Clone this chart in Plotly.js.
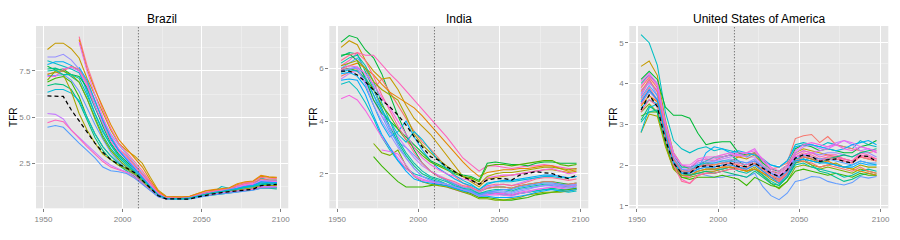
<!DOCTYPE html>
<html>
<head>
<meta charset="utf-8">
<script src="https://cdn.plot.ly/plotly-3.0.1.min.js"></script>
<style>html,body{margin:0;padding:0;background:#fff}#chart{width:900px;height:240px}</style>
</head>
<body>
<div id="chart"></div>
<script>
// ---------- DATA ----------
const years = [1952.5,1957.5,1962.5,1967.5,1972.5,1977.5,1982.5,1987.5,1992.5,1997.5,2002.5,2007.5,2012.5,2017.5,2022.5,2027.5,2032.5,2037.5,2042.5,2047.5,2052.5,2057.5,2062.5,2067.5,2072.5,2077.5,2082.5,2087.5,2092.5,2097.5];
const panelTitles = ["Brazil", "India", "United States of America"];
const projectionStart = 2010;

const brazilMedian = [6.15,6.15,6.12,5.4,4.8,4.2,3.6,3.1,2.7,2.45,2.25,2.0,1.6,1.15,0.75,0.58,0.57,0.57,0.57,0.68,0.78,0.85,0.92,0.96,1.0,1.05,1.1,1.3,1.33,1.36];
const brazilLines = [
 [8.66,9.0,9.0,8.7,8.2,7.1,6.2,5.2,4.3,3.6,3.2,2.9,2.5,1.75,1.05,0.72,0.7,0.7,0.72,0.85,1.0,1.05,1.1,1.15,1.35,1.45,1.5,1.8,1.75,1.72],
 [8.25,8.25,8.4,8.1,7.6,6.8,5.8,4.9,4.1,3.5,3.0,2.5,2.0,1.45,0.95,0.65,0.62,0.63,0.68,0.8,0.92,0.98,1.05,1.12,1.25,1.4,1.45,1.6,1.55,1.55],
 [8.05,7.9,7.75,7.6,7.4,6.5,5.5,4.6,3.8,3.2,2.8,2.3,1.75,1.3,0.85,0.62,0.6,0.6,0.64,0.75,0.88,0.95,1.25,1.15,1.2,1.3,1.35,1.7,1.6,1.6],
 [7.85,8.0,8.0,7.8,7.5,6.3,5.2,4.3,3.5,2.9,2.5,2.1,1.6,1.2,0.8,0.6,0.58,0.58,0.62,0.72,0.82,0.9,0.95,1.0,1.1,1.2,1.25,1.4,1.45,1.45],
 [7.75,7.55,7.6,7.3,7.2,6.6,5.6,4.5,3.6,3.0,2.6,2.2,1.7,1.25,0.8,0.6,0.57,0.58,0.6,0.7,0.78,0.85,0.9,0.95,1.0,1.05,1.12,1.2,1.22,1.2],
 [7.6,7.65,7.5,7.2,6.9,6.0,5.0,4.0,3.3,2.8,2.4,2.0,1.55,1.15,0.78,0.6,0.58,0.6,0.64,0.75,0.85,0.92,1.0,1.05,1.15,1.25,1.3,1.45,1.4,1.4],
 [7.35,7.4,7.5,7.75,7.6,6.9,5.9,4.8,3.9,3.3,2.9,2.4,1.9,1.4,0.9,0.65,0.62,0.62,0.66,0.78,0.9,0.98,1.05,1.1,1.3,1.4,1.45,1.65,1.6,1.6],
 [7.25,7.25,7.3,7.0,6.4,5.5,4.6,3.8,3.1,2.6,2.3,2.0,1.55,1.15,0.78,0.6,0.58,0.58,0.62,0.72,0.82,0.88,0.95,1.0,1.05,1.15,1.2,1.35,1.35,1.4],
 [7.2,7.2,7.6,7.7,7.5,6.7,5.6,4.6,3.7,3.1,2.7,2.2,1.7,1.25,0.82,0.62,0.6,0.6,0.65,0.76,0.88,0.95,1.0,1.05,1.2,1.3,1.35,1.5,1.5,1.5],
 [7.0,7.5,7.5,7.3,6.9,6.0,4.9,3.9,3.2,2.7,2.3,2.0,1.55,1.1,0.75,0.58,0.56,0.57,0.6,0.68,0.76,0.82,0.88,0.92,1.0,1.05,1.1,1.2,1.2,1.2],
 [6.9,7.1,7.2,6.9,6.1,5.0,4.1,3.4,2.9,2.5,2.2,1.9,1.5,1.1,0.75,0.58,0.56,0.56,0.6,0.7,0.8,0.85,0.9,0.95,1.02,1.1,1.15,1.25,1.28,1.3],
 [6.7,6.8,6.75,6.5,5.8,4.8,3.9,3.2,2.7,2.4,2.1,1.8,1.45,1.05,0.72,0.57,0.55,0.56,0.6,0.68,0.75,0.8,0.85,0.9,0.98,1.02,1.08,1.15,1.15,1.12],
 [6.35,6.5,6.5,6.3,5.9,5.0,4.1,3.4,2.9,2.5,2.2,1.9,1.5,1.1,0.75,0.6,0.58,0.58,0.62,0.72,0.82,0.9,0.98,1.1,1.15,1.25,1.3,1.5,1.5,1.45],
 [7.3,7.45,7.3,6.4,5.2,4.3,3.6,3.0,2.7,2.4,2.2,1.9,1.5,1.1,0.75,0.6,0.58,0.59,0.62,0.72,0.8,0.86,0.92,0.98,1.05,1.12,1.18,1.3,1.3,1.3],
 [5.2,5.15,4.9,4.3,3.9,3.5,3.1,2.7,2.4,2.2,2.05,1.85,1.45,1.05,0.72,0.58,0.56,0.57,0.6,0.7,0.78,0.85,0.9,0.95,1.02,1.08,1.12,1.25,1.25,1.25],
 [4.7,4.85,4.75,4.3,3.8,3.4,3.0,2.6,2.3,2.15,2.0,1.75,1.4,1.0,0.7,0.57,0.55,0.56,0.6,0.68,0.76,0.82,0.88,0.92,1.0,1.05,1.1,1.2,1.2,1.22],
 [4.45,4.55,4.45,4.0,3.6,3.2,2.8,2.3,2.1,2.05,1.95,1.7,1.35,1.0,0.7,0.57,0.55,0.55,0.58,0.66,0.74,0.8,0.85,0.9,0.95,1.0,1.05,1.15,1.15,1.18],
 [null,null,null,null,9.35,7.8,6.6,5.4,4.4,3.6,3.1,2.6,2.1,1.5,0.95,0.68,0.66,0.66,0.7,0.82,0.95,1.0,1.08,1.15,1.3,1.45,1.5,1.75,1.7,1.68],
 [null,null,null,null,9.2,7.6,6.5,5.5,4.6,3.8,3.3,2.8,2.3,1.6,1.0,0.7,0.68,0.68,0.72,0.88,1.02,1.08,1.12,1.18,1.4,1.5,1.55,1.85,1.78,1.75],
 [null,null,null,null,9.05,7.5,6.2,5.0,4.0,3.3,2.8,2.3,1.8,1.3,0.85,0.62,0.6,0.6,0.65,0.76,0.86,0.95,1.02,1.08,1.2,1.35,1.4,1.55,1.55,1.52],
 [null,null,null,null,7.7,7.0,5.9,4.8,3.9,3.2,2.7,2.2,1.7,1.25,0.8,0.6,0.58,0.59,0.63,0.74,0.84,0.92,0.98,1.05,1.15,1.25,1.3,1.5,1.45,1.45],
 [7.5,7.55,7.3,7.3,7.1,6.2,5.2,4.2,3.5,2.9,2.5,2.1,1.65,1.2,0.78,0.6,0.58,0.58,0.62,0.72,0.84,0.92,0.98,1.02,1.1,1.2,1.25,1.35,1.38,1.4]
];
const brazilColors = ["#C49A00","#9590FF","#00BFC4","#00B0F6","#00BA38","#00C08B","#F8766D","#619CFF","#F564E3","#7CAE00","#39B600","#00BF7D","#00BCD8","#A3A500","#C77CFF","#FF62BC","#529EFF","#FF6A98","#E58700","#E76BF3","#00A9FF","#00C1AA"];

const indiaMedian = [5.9,5.9,5.75,5.49,5.18,4.8,4.54,4.23,3.85,3.4,3.02,2.65,2.52,2.27,2.08,1.89,1.76,1.6,1.76,1.82,1.82,1.76,1.95,2.01,2.08,2.04,2.01,1.89,1.82,1.95];
const indiaLines = [
 [7.0,7.25,7.15,6.7,6.4,5.8,5.0,4.2,3.5,2.9,2.4,2.1,1.9,1.75,1.6,1.5,1.45,1.35,1.45,1.5,1.5,1.45,1.55,1.6,1.65,1.7,1.7,1.65,1.6,1.65],
 [6.8,7.05,6.9,6.3,5.9,5.6,5.65,5.2,4.6,4.1,3.8,3.5,3.1,2.7,2.3,1.9,1.7,1.5,1.8,1.85,1.9,1.95,2.0,2.05,2.1,2.15,2.15,2.1,2.05,2.1],
 [6.45,6.6,6.55,5.9,5.2,4.5,3.8,3.2,2.7,2.3,2.0,1.85,1.75,1.6,1.5,1.4,1.35,1.25,1.3,1.3,1.25,1.2,1.25,1.3,1.35,1.4,1.45,1.4,1.4,1.45],
 [6.1,6.3,6.6,6.5,6.5,6.15,5.8,5.5,5.15,4.8,4.45,4.1,3.75,3.4,3.0,2.6,2.35,2.1,2.3,2.3,2.25,2.2,2.25,2.3,2.3,2.35,2.3,2.25,2.2,2.2],
 [5.7,5.85,5.95,5.6,5.2,5.6,5.1,4.6,4.1,3.6,3.2,2.95,2.6,2.2,1.9,1.65,1.5,1.3,1.45,1.5,1.5,1.45,1.55,1.6,1.65,1.7,1.7,1.6,1.6,1.65],
 [6.0,6.1,6.2,6.0,5.75,5.4,5.1,4.9,4.7,4.5,4.2,3.85,3.5,3.15,2.8,2.45,2.15,1.9,2.05,2.1,2.15,2.15,2.2,2.2,2.25,2.3,2.3,2.2,2.1,2.15],
 [5.4,5.5,5.2,4.7,4.1,3.4,2.9,2.5,2.2,2.0,1.9,1.8,1.7,1.6,1.5,1.4,1.3,1.2,1.25,1.25,1.2,1.2,1.25,1.3,1.35,1.4,1.4,1.35,1.3,1.35],
 [4.85,4.98,4.8,4.4,3.9,3.4,3.0,2.6,2.2,1.95,1.8,1.7,1.6,1.5,1.4,1.3,1.25,1.15,1.2,1.25,1.25,1.2,1.3,1.35,1.4,1.45,1.5,1.45,1.4,1.45],
 [5.9,6.0,6.05,5.7,5.0,4.2,3.6,3.2,3.0,2.7,2.4,2.1,1.9,1.75,1.6,1.45,1.35,1.2,1.3,1.35,1.35,1.3,1.4,1.45,1.5,1.55,1.55,1.5,1.45,1.5],
 [5.6,5.8,5.9,5.5,4.8,4.2,3.8,3.4,3.0,2.6,2.3,2.1,1.95,1.8,1.65,1.5,1.45,1.3,1.5,1.55,1.6,1.55,1.65,1.75,1.85,1.9,1.95,1.9,1.85,1.9],
 [5.8,5.85,5.7,5.3,4.6,3.9,3.4,3.6,4.0,3.4,2.9,2.5,2.2,2.0,1.8,1.65,1.55,1.4,1.6,1.7,1.75,1.75,1.8,1.85,1.9,1.95,1.95,1.9,1.85,1.9],
 [6.2,6.4,6.5,6.1,5.5,4.7,4.0,3.3,2.8,2.4,2.1,1.9,1.8,1.7,1.55,1.45,1.4,1.25,1.35,1.4,1.4,1.35,1.45,1.5,1.55,1.6,1.6,1.55,1.5,1.55],
 [null,null,null,null,2.65,2.3,2.0,1.7,1.5,1.5,1.5,1.55,1.6,1.55,1.45,1.35,1.25,1.1,1.1,1.05,1.0,1.0,1.05,1.1,1.2,1.25,1.3,1.35,1.4,1.45],
 [null,null,null,null,3.15,2.8,2.7,2.9,2.3,1.9,1.7,1.6,1.55,1.5,1.4,1.3,1.2,1.05,1.05,1.0,1.0,1.05,1.1,1.2,1.25,1.3,1.3,1.3,1.35,1.4],
 [null,null,null,null,null,2.9,2.85,2.75,2.3,1.9,1.75,1.7,1.65,1.6,1.5,1.4,1.3,1.15,1.2,1.2,1.2,1.15,1.25,1.3,1.4,1.45,1.5,1.5,1.5,1.55],
 [6.5,6.55,6.3,5.6,4.8,4.3,4.0,3.7,3.4,3.1,2.8,2.5,2.35,2.2,2.05,1.95,1.9,1.75,2.4,2.45,2.4,2.35,2.35,2.3,2.4,2.45,2.45,2.4,2.4,2.4],
 [5.95,6.0,5.9,5.6,5.2,4.6,4.2,3.7,3.3,3.0,2.7,2.45,2.3,2.15,2.0,1.9,1.85,1.7,2.3,2.35,2.35,2.3,2.35,2.4,2.45,2.5,2.5,2.35,2.3,2.35],
 [6.3,6.5,6.6,6.3,5.7,5.0,4.4,3.8,3.3,2.8,2.4,2.1,1.9,1.8,1.7,1.55,1.5,1.35,1.55,1.6,1.6,1.55,1.6,1.7,1.8,1.85,1.85,1.8,1.75,1.8],
 [5.55,5.6,5.55,5.0,4.2,3.5,3.0,2.5,2.1,1.8,1.7,1.65,1.6,1.55,1.45,1.35,1.3,1.15,1.15,1.1,1.1,1.1,1.15,1.2,1.3,1.35,1.4,1.35,1.35,1.4],
 [6.0,6.2,6.4,6.0,5.3,4.4,3.7,3.1,2.6,2.2,1.9,1.75,1.7,1.6,1.5,1.4,1.35,1.2,1.3,1.35,1.4,1.4,1.5,1.55,1.6,1.65,1.65,1.6,1.55,1.6],
 [5.95,6.1,6.05,5.8,5.4,4.9,4.5,4.0,3.5,3.0,2.6,2.35,2.15,2.0,1.9,1.8,1.75,1.6,1.85,1.9,1.95,1.95,2.0,2.05,2.1,2.15,2.2,2.1,2.0,2.05],
 [6.1,6.2,6.3,6.0,5.5,5.2,5.0,4.8,4.2,3.5,3.1,2.8,2.55,2.3,2.1,1.9,1.8,1.6,1.9,2.0,2.05,2.05,2.1,2.15,2.2,2.25,2.25,2.2,2.15,2.2],
 [5.85,5.95,5.9,5.6,5.0,4.4,4.0,3.5,3.2,3.6,3.3,2.9,2.5,2.2,1.95,1.75,1.6,1.4,1.65,1.7,1.7,1.7,1.75,1.8,1.85,1.9,1.9,1.85,1.85,1.9],
 [5.9,6.0,6.0,5.4,4.6,4.0,3.5,3.0,2.6,2.2,1.9,1.75,1.65,1.6,1.5,1.4,1.3,1.15,1.25,1.3,1.3,1.25,1.35,1.4,1.5,1.55,1.6,1.55,1.55,1.6]
];
const indiaColors = ["#00BA38","#C49A00","#00C08B","#FF62BC","#F8766D","#E58700","#00BFC4","#F564E3","#619CFF","#C77CFF","#00B0F6","#00C1AA","#39B600","#7CAE00","#E76BF3","#00BA38","#53B400","#FF6C91","#00A9FF","#529EFF","#F564E3","#A3A500","#00BCD8","#9590FF"];

const usaMedian = [3.35,3.72,3.43,2.62,2.05,1.8,1.8,1.96,1.98,1.96,1.98,2.05,1.96,1.96,2.05,1.92,1.8,1.72,1.88,2.17,2.25,2.21,2.09,2.13,2.15,2.09,2.05,2.23,2.21,2.09];
const usaLines = [
 [5.2,5.0,4.45,3.3,2.6,2.4,2.3,2.4,2.45,2.35,2.4,2.35,2.3,2.2,2.3,2.1,2.0,1.95,2.1,2.5,2.55,2.5,2.45,2.55,2.5,2.45,2.4,2.6,2.5,2.45],
 [4.42,4.55,4.2,3.1,2.3,2.0,1.9,1.95,2.05,2.0,2.05,2.1,2.2,2.15,2.25,2.0,1.85,1.8,1.95,2.3,2.4,2.35,2.3,2.25,2.2,2.15,2.1,2.2,2.15,2.1],
 [4.1,4.3,4.1,3.42,3.22,3.22,3.15,2.78,2.5,2.55,2.57,2.57,2.3,2.25,2.3,2.05,1.9,1.85,2.0,2.4,2.5,2.45,2.35,2.4,2.35,2.3,2.3,2.45,2.5,2.6],
 [3.5,3.8,3.6,2.6,1.95,1.75,1.75,1.8,1.75,1.7,1.7,1.75,1.75,1.7,1.8,1.47,1.25,1.15,1.31,1.6,1.64,1.72,1.7,1.6,1.55,1.51,1.57,1.72,1.68,1.72],
 [3.9,4.15,3.9,2.9,2.1,1.85,1.9,2.1,2.15,2.1,2.2,2.25,2.2,2.25,2.3,2.1,1.9,1.95,2.05,2.65,2.72,2.75,2.55,2.7,2.5,2.45,2.4,2.35,2.3,2.35],
 [3.3,3.5,3.3,2.5,1.9,1.7,1.7,1.75,1.8,1.8,1.85,1.9,1.95,1.85,1.9,1.75,1.55,1.42,1.6,1.95,2.0,1.95,1.9,1.95,1.9,1.85,1.8,1.9,1.85,1.8],
 [4.0,4.2,4.0,3.0,2.25,1.95,1.95,2.0,2.1,2.2,2.2,2.25,2.1,1.95,2.05,1.85,1.7,1.65,1.8,2.1,2.15,2.0,1.85,1.8,1.7,1.6,1.65,1.75,1.8,1.75],
 [3.7,4.05,3.8,2.8,2.1,1.65,1.55,1.75,1.8,1.85,1.9,1.95,1.95,1.9,2.0,1.85,1.7,1.6,1.8,2.15,2.2,2.15,2.1,2.2,2.2,2.15,2.1,2.25,2.2,2.15],
 [3.85,4.0,3.85,2.9,2.2,1.9,1.85,2.0,2.05,2.1,2.15,2.2,2.25,2.2,2.2,2.0,1.85,1.75,1.9,2.3,2.45,2.5,2.4,2.45,2.55,2.6,2.5,2.35,2.4,2.3],
 [3.6,3.9,3.6,2.7,2.0,1.75,1.7,1.9,1.95,1.9,1.95,2.0,2.0,1.95,2.05,1.9,1.75,1.65,1.85,2.2,2.3,2.25,2.15,2.2,2.2,2.1,2.05,2.2,2.15,2.1],
 [3.4,3.6,3.5,2.7,2.1,1.85,1.8,1.9,2.3,2.45,2.4,2.3,2.35,2.3,2.25,2.15,2.0,1.95,2.1,2.45,2.5,2.5,2.45,2.4,2.35,2.4,2.5,2.55,2.6,2.5],
 [3.2,3.3,3.3,2.55,1.95,1.7,1.65,1.7,1.7,1.7,1.75,1.7,1.65,1.5,1.7,1.6,1.5,1.45,1.6,1.85,1.9,1.85,1.8,1.75,1.8,1.75,1.7,1.8,1.75,1.75],
 [2.8,3.25,3.2,2.45,1.9,1.8,1.75,1.8,1.85,1.85,1.9,1.95,1.9,1.85,1.95,1.8,1.65,1.55,1.7,2.05,2.1,2.0,1.95,2.0,2.05,1.95,1.9,2.0,1.95,1.95],
 [3.95,4.2,3.95,3.0,2.3,2.0,2.0,2.15,2.2,2.2,2.25,2.3,2.25,2.3,2.35,2.15,1.95,1.85,2.0,2.35,2.5,2.55,2.5,2.45,2.5,2.4,2.35,2.45,2.4,2.3],
 [3.75,4.1,3.7,2.8,2.15,1.9,1.9,2.05,2.1,2.1,2.1,2.15,2.1,2.05,2.15,1.95,1.8,1.7,1.85,2.25,2.35,2.3,2.25,2.3,2.3,2.25,2.2,2.3,2.3,2.2],
 [3.05,3.3,3.35,2.6,2.0,1.75,1.75,1.85,1.9,1.9,1.9,1.95,1.85,1.8,1.9,1.75,1.6,1.5,1.7,2.0,2.05,1.95,1.9,1.85,1.8,1.7,1.75,1.85,1.9,1.85],
 [2.8,3.4,3.5,2.65,2.0,1.8,1.85,2.0,2.05,2.05,2.1,2.1,2.05,2.0,2.1,1.95,1.8,1.7,1.85,2.15,2.2,2.15,2.1,2.05,2.0,1.95,2.0,2.1,2.05,2.0],
 [3.5,3.85,3.55,2.75,2.05,1.8,1.8,1.95,2.0,1.95,2.0,2.05,2.05,2.0,2.1,1.95,1.8,1.7,1.9,2.25,2.35,2.3,2.2,2.25,2.25,2.15,2.1,2.3,2.25,2.15],
 [3.45,3.7,3.55,2.7,2.0,1.75,1.75,1.85,1.9,1.9,1.95,1.95,1.9,1.85,1.9,1.8,1.7,1.6,1.75,2.1,2.2,2.15,2.05,2.1,2.0,1.95,1.9,1.85,1.8,1.75],
 [3.65,3.95,3.7,2.85,2.15,1.9,1.85,1.95,2.0,2.05,2.05,2.1,2.1,2.05,2.1,1.95,1.8,1.7,1.85,2.2,2.25,2.2,2.15,2.15,2.1,2.05,2.0,2.1,2.05,2.05],
 [3.1,3.45,3.3,2.6,2.05,1.8,1.75,1.8,1.85,1.8,1.85,1.8,1.75,1.7,1.85,1.7,1.55,1.5,1.7,2.05,2.15,2.1,2.05,2.15,2.2,2.25,2.2,2.3,2.35,2.4],
 [3.3,3.6,3.45,2.65,2.0,1.6,1.55,1.75,1.8,1.8,1.85,1.9,1.9,1.9,2.0,1.85,1.7,1.6,1.75,2.1,2.2,2.2,2.1,2.15,2.15,2.1,2.05,2.2,2.2,2.15],
 [4.05,4.25,4.0,3.05,2.25,2.0,1.95,2.1,2.15,2.15,2.2,2.25,2.3,2.3,2.4,2.1,1.9,1.8,1.95,2.2,2.25,2.3,2.35,2.4,2.5,2.6,2.55,2.45,2.4,2.35],
 [3.8,4.1,3.8,2.85,2.15,1.85,1.85,1.95,2.0,2.0,2.05,2.05,2.0,1.95,2.05,1.9,1.75,1.65,1.8,2.1,2.1,2.05,1.95,2.0,1.95,1.9,1.85,1.95,1.85,1.8],
 [3.55,3.85,3.6,2.75,2.05,1.8,1.8,1.9,1.95,1.95,2.0,2.0,1.95,1.9,2.0,1.85,1.7,1.55,1.75,2.1,2.15,2.1,2.05,2.05,2.0,1.95,1.95,2.05,2.0,2.0]
];
const usaColors = ["#00BFC4","#C49A00","#00BA38","#619CFF","#F8766D","#7CAE00","#00C08B","#FF62BC","#C77CFF","#FF6C91","#00B0F6","#39B600","#A3A500","#F564E3","#9590FF","#00C1AA","#00BCD8","#FF62BC","#E58700","#529EFF","#00BF7D","#FF6A98","#E76BF3","#F8766D","#00A9FF"];

// ---------- BUILD ----------
const panels = [
  {lines: brazilLines, colors: brazilColors, median: brazilMedian, xa: 'x',  ya: 'y'},
  {lines: indiaLines,  colors: indiaColors,  median: indiaMedian,  xa: 'x2', ya: 'y2'},
  {lines: usaLines,    colors: usaColors,    median: usaMedian,    xa: 'x3', ya: 'y3'}
];
const traces = [];
panels.forEach(p => {
  p.lines.forEach((vals, k) => {
    traces.push({x: years, y: vals, xaxis: p.xa, yaxis: p.ya, type: 'scatter', mode: 'lines',
      line: {color: p.colors[k % p.colors.length], width: 1.05}, hoverinfo: 'skip', showlegend: false});
  });
  traces.push({x: years, y: p.median, xaxis: p.xa, yaxis: p.ya, type: 'scatter', mode: 'lines',
    line: {color: '#000000', width: 1.25, dash: '4px,3px'}, hoverinfo: 'skip', showlegend: false});
});

const tickFont = {family: 'Liberation Sans, Arial, sans-serif', size: 8, color: '#7F7F7F'};
function xAx(domain, anchor) {
  return {domain: domain, anchor: anchor, range: [1945.25, 2104.75], tick0: 1950, dtick: 50,
    showgrid: true, gridcolor: '#FFFFFF', gridwidth: 1.1, zeroline: false, showline: false,
    ticks: 'outside', ticklen: 3, tickwidth: 1, tickcolor: '#7F7F7F', tickfont: tickFont,
    minor: {dtick: 25, tick0: 1950, showgrid: true, gridcolor: '#F2F2F2', gridwidth: 0.6},
    fixedrange: true};
}
function yAx(domain, anchor, range, dtick, fmt) {
  return {domain: domain, anchor: anchor, range: range, tick0: 0, dtick: dtick, tickformat: fmt,
    showgrid: true, gridcolor: '#FFFFFF', gridwidth: 1.1, zeroline: false, showline: false,
    ticks: 'outside', ticklen: 3, tickwidth: 1, tickcolor: '#7F7F7F', tickfont: tickFont,
    minor: {dtick: dtick / 2, tick0: 0, showgrid: true, gridcolor: '#F2F2F2', gridwidth: 0.6},
    fixedrange: true};
}
const yDom = [0.1321, 0.8917];
const layout = {
  width: 900, height: 240, margin: {l: 0, r: 0, t: 0, b: 0},
  paper_bgcolor: '#FFFFFF', plot_bgcolor: '#E5E5E5', showlegend: false,
  xaxis:  xAx([0.04, 0.3203], 'y'),
  xaxis2: xAx([0.3659, 0.6537], 'y2'),
  xaxis3: xAx([0.6992, 0.987], 'y3'),
  yaxis:  yAx(yDom, 'x',  [0.07, 9.93], 2.5, '.1f'),
  yaxis2: yAx(yDom, 'x2', [0.69, 7.61], 2, 'd'),
  yaxis3: yAx(yDom, 'x3', [0.94, 5.41], 1, 'd'),
  shapes: ['x', 'x2', 'x3'].map(xa => ({type: 'line', xref: xa, yref: 'paper',
    x0: projectionStart, x1: projectionStart, y0: yDom[0], y1: yDom[1],
    line: {color: '#4D4D4D', width: 1, dash: '1px,2px'}})),
  annotations: []
};
const titleX = [162, 458.7, 758.8];
const tfrX = [12.7, 312.7, 612.7];
panelTitles.forEach((t, i) => {
  layout.annotations.push({text: t, xref: 'paper', yref: 'paper', x: titleX[i] / 900, y: 1 - 19 / 240,
    xanchor: 'center', yanchor: 'middle', showarrow: false,
    font: {family: 'Liberation Sans, Arial, sans-serif', size: 12, color: '#000000'}});
  layout.annotations.push({text: 'TFR', xref: 'paper', yref: 'paper', x: tfrX[i] / 900, y: 1 - 117.2 / 240,
    xanchor: 'center', yanchor: 'middle', showarrow: false, textangle: -90,
    font: {family: 'Liberation Sans, Arial, sans-serif', size: 10, color: '#000000'}});
});
Plotly.newPlot('chart', traces, layout, {displayModeBar: false, staticPlot: true});
</script>
</body>
</html>
